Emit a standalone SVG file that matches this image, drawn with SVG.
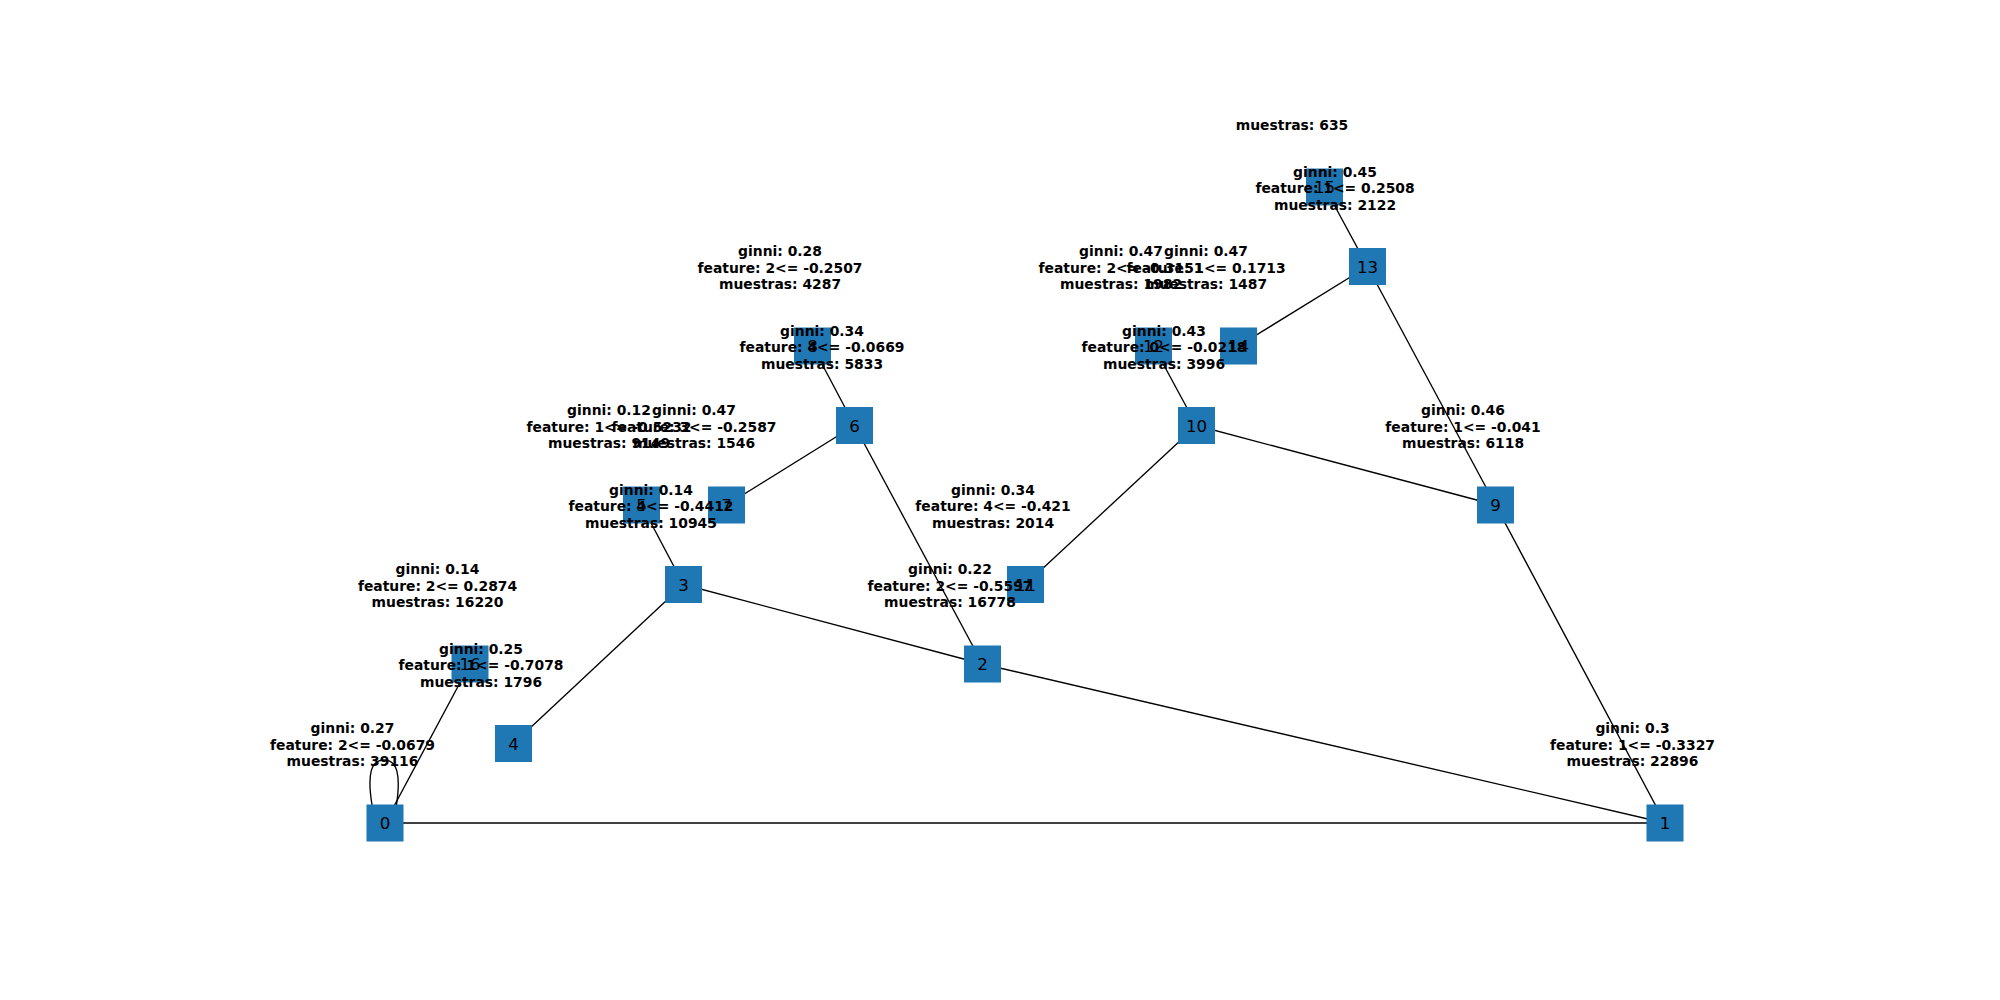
<svg xmlns="http://www.w3.org/2000/svg" width="2000" height="1000" viewBox="0 0 2000 1000">
<style>
.edge{stroke:#000;stroke-width:1.35;fill:none}
.node rect{fill:#1f77b4}
.num{font-family:"DejaVu Sans",sans-serif;font-size:16.67px;fill:#000;text-anchor:middle}
.lab{font-family:"DejaVu Sans",sans-serif;font-size:13.89px;font-weight:bold;fill:#000;text-anchor:middle}
</style>
<rect width="2000" height="1000" fill="#fff"/>
<g id="connectors">
<path class="edge" d="M372 805 C367 774 371 760 384 760 C397 760 401 774 396.5 805"/>
<line class="edge" x1="385" y1="823" x2="470" y2="664"/>
<line class="edge" x1="385" y1="823" x2="1665" y2="823"/>
<line class="edge" x1="1665" y1="823" x2="982.5" y2="664"/>
<line class="edge" x1="1665" y1="823" x2="1495.5" y2="505"/>
<line class="edge" x1="982.5" y1="664" x2="683.5" y2="584.5"/>
<line class="edge" x1="982.5" y1="664" x2="854.5" y2="425.5"/>
<line class="edge" x1="683.5" y1="584.5" x2="513.5" y2="743.5"/>
<line class="edge" x1="683.5" y1="584.5" x2="641.5" y2="505"/>
<line class="edge" x1="854.5" y1="425.5" x2="726.5" y2="505"/>
<line class="edge" x1="854.5" y1="425.5" x2="812.5" y2="346"/>
<line class="edge" x1="1495.5" y1="505" x2="1196.5" y2="425.5"/>
<line class="edge" x1="1495.5" y1="505" x2="1367.5" y2="266.5"/>
<line class="edge" x1="1196.5" y1="425.5" x2="1025.5" y2="584.5"/>
<line class="edge" x1="1196.5" y1="425.5" x2="1153.5" y2="346"/>
<line class="edge" x1="1367.5" y1="266.5" x2="1238.5" y2="346"/>
<line class="edge" x1="1367.5" y1="266.5" x2="1324.5" y2="187"/>
</g>
<g id="node0" class="node"><rect x="366.5" y="804.5" width="37" height="37"/><text class="num" x="385" y="829">0</text>
<text class="lab" x="352.5" y="733"><tspan x="352.5">ginni: 0.27</tspan><tspan x="352.5" dy="16.67">feature: 2&lt;= -0.0679</tspan><tspan x="352.5" dy="16.67">muestras: 39116</tspan></text></g>
<g id="node1" class="node"><rect x="1646.5" y="804.5" width="37" height="37"/><text class="num" x="1665" y="829">1</text>
<text class="lab" x="1632.5" y="733"><tspan x="1632.5">ginni: 0.3</tspan><tspan x="1632.5" dy="16.67">feature: 1&lt;= -0.3327</tspan><tspan x="1632.5" dy="16.67">muestras: 22896</tspan></text></g>
<g id="node16" class="node"><rect x="451.5" y="645.5" width="37" height="37"/><text class="num" x="470" y="670">16</text>
<text class="lab" x="437.5" y="574"><tspan x="437.5">ginni: 0.14</tspan><tspan x="437.5" dy="16.67">feature: 2&lt;= 0.2874</tspan><tspan x="437.5" dy="16.67">muestras: 16220</tspan></text></g>
<g id="node4" class="node"><rect x="495" y="725" width="37" height="37"/><text class="num" x="513.5" y="749.5">4</text>
<text class="lab" x="481" y="653.5"><tspan x="481">ginni: 0.25</tspan><tspan x="481" dy="16.67">feature: 1&lt;= -0.7078</tspan><tspan x="481" dy="16.67">muestras: 1796</tspan></text></g>
<g id="node5" class="node"><rect x="623" y="486.5" width="37" height="37"/><text class="num" x="641.5" y="511">5</text>
<text class="lab" x="609" y="415"><tspan x="609">ginni: 0.12</tspan><tspan x="609" dy="16.67">feature: 1&lt;= -0.5232</tspan><tspan x="609" dy="16.67">muestras: 9149</tspan></text></g>
<g id="node7" class="node"><rect x="708" y="486.5" width="37" height="37"/><text class="num" x="726.5" y="511">7</text>
<text class="lab" x="694" y="415"><tspan x="694">ginni: 0.47</tspan><tspan x="694" dy="16.67">feature: 3&lt;= -0.2587</tspan><tspan x="694" dy="16.67">muestras: 1546</tspan></text></g>
<g id="node3" class="node"><rect x="665" y="566" width="37" height="37"/><text class="num" x="683.5" y="590.5">3</text>
<text class="lab" x="651" y="494.5"><tspan x="651">ginni: 0.14</tspan><tspan x="651" dy="16.67">feature: 4&lt;= -0.4412</tspan><tspan x="651" dy="16.67">muestras: 10945</tspan></text></g>
<g id="node8" class="node"><rect x="794" y="327.5" width="37" height="37"/><text class="num" x="812.5" y="352">8</text>
<text class="lab" x="780" y="256"><tspan x="780">ginni: 0.28</tspan><tspan x="780" dy="16.67">feature: 2&lt;= -0.2507</tspan><tspan x="780" dy="16.67">muestras: 4287</tspan></text></g>
<g id="node6" class="node"><rect x="836" y="407" width="37" height="37"/><text class="num" x="854.5" y="431.5">6</text>
<text class="lab" x="822" y="335.5"><tspan x="822">ginni: 0.34</tspan><tspan x="822" dy="16.67">feature: 4&lt;= -0.0669</tspan><tspan x="822" dy="16.67">muestras: 5833</tspan></text></g>
<g id="node11" class="node"><rect x="1007" y="566" width="37" height="37"/><text class="num" x="1025.5" y="590.5">11</text>
<text class="lab" x="993" y="494.5"><tspan x="993">ginni: 0.34</tspan><tspan x="993" dy="16.67">feature: 4&lt;= -0.421</tspan><tspan x="993" dy="16.67">muestras: 2014</tspan></text></g>
<g id="node2" class="node"><rect x="964" y="645.5" width="37" height="37"/><text class="num" x="982.5" y="670">2</text>
<text class="lab" x="950" y="574"><tspan x="950">ginni: 0.22</tspan><tspan x="950" dy="16.67">feature: 2&lt;= -0.5597</tspan><tspan x="950" dy="16.67">muestras: 16778</tspan></text></g>
<g id="node12" class="node"><rect x="1135" y="327.5" width="37" height="37"/><text class="num" x="1153.5" y="352">12</text>
<text class="lab" x="1121" y="256"><tspan x="1121">ginni: 0.47</tspan><tspan x="1121" dy="16.67">feature: 2&lt;= -0.3151</tspan><tspan x="1121" dy="16.67">muestras: 1982</tspan></text></g>
<g id="node14" class="node"><rect x="1220" y="327.5" width="37" height="37"/><text class="num" x="1238.5" y="352">14</text>
<text class="lab" x="1206" y="256"><tspan x="1206">ginni: 0.47</tspan><tspan x="1206" dy="16.67">feature: 1&lt;= 0.1713</tspan><tspan x="1206" dy="16.67">muestras: 1487</tspan></text></g>
<g id="node10" class="node"><rect x="1178" y="407" width="37" height="37"/><text class="num" x="1196.5" y="431.5">10</text>
<text class="lab" x="1164" y="335.5"><tspan x="1164">ginni: 0.43</tspan><tspan x="1164" dy="16.67">feature: 0&lt;= -0.0218</tspan><tspan x="1164" dy="16.67">muestras: 3996</tspan></text></g>
<g id="node15" class="node"><rect x="1306" y="168.5" width="37" height="37"/><text class="num" x="1324.5" y="193">15</text>
<text class="lab" x="1292" y="130.3">muestras: 635</text></g>
<g id="node13" class="node"><rect x="1349" y="248" width="37" height="37"/><text class="num" x="1367.5" y="272.5">13</text>
<text class="lab" x="1335" y="176.5"><tspan x="1335">ginni: 0.45</tspan><tspan x="1335" dy="16.67">feature: 1&lt;= 0.2508</tspan><tspan x="1335" dy="16.67">muestras: 2122</tspan></text></g>
<g id="node9" class="node"><rect x="1477" y="486.5" width="37" height="37"/><text class="num" x="1495.5" y="511">9</text>
<text class="lab" x="1463" y="415"><tspan x="1463">ginni: 0.46</tspan><tspan x="1463" dy="16.67">feature: 1&lt;= -0.041</tspan><tspan x="1463" dy="16.67">muestras: 6118</tspan></text></g>
</svg>
